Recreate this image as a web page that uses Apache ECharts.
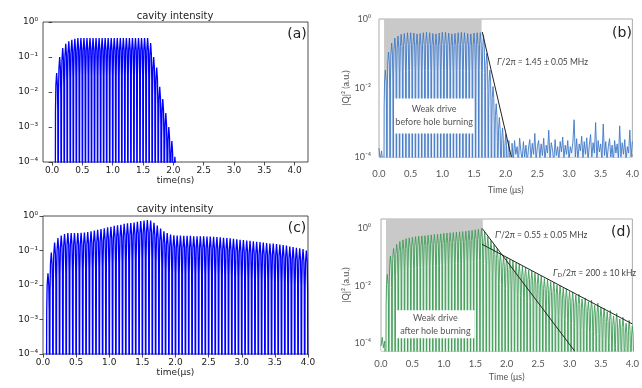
<!DOCTYPE html>
<html>
<head>
<meta charset="utf-8">
<script src="https://cdn.jsdelivr.net/npm/echarts@6/dist/echarts.min.js"></script>
<style>
  html, body { margin: 0; padding: 0; background: #fff; }
  #chart { width: 642px; height: 388px; }
</style>
</head>
<body>
<div id="chart"></div>
<script>
// pulse train: one peak every PERIOD (time units of each panel)
const PERIOD = 0.05;
// shape of one oscillation, [phase, fraction of the peak]; 0 means the dip
const PULSE_SHAPE = [[0, 0], [0.12, 0.08], [0.25, 0.45], [0.5, 1], [0.75, 0.45], [0.88, 0.08]];
const DIP = 1e-7;

// (a) simulation, weak drive before hole burning (peaks of each oscillation)
const startA = 0.05;
const peaksA = [
  0.035, 0.1, 0.18, 0.24, 0.28, 0.31, 0.33,
  0.35, 0.35, 0.35, 0.35, 0.35, 0.35, 0.35, 0.35, 0.35, 0.35, 0.35, 0.35,
  0.35, 0.35, 0.35, 0.35, 0.35, 0.35, 0.35, 0.35, 0.35, 0.35, 0.35, 0.35,
  0.25, 0.1, 0.05, 0.014, 0.0063, 0.0025, 0.001, 0.0004, 0.00014
];

// (c) simulation, after hole burning
const startC = 0.05;
const peaksC = [
  0.022, 0.087, 0.17, 0.23, 0.27, 0.3,
  0.32, 0.32, 0.32, 0.32, 0.325, 0.33,
  0.34, 0.36, 0.38, 0.4, 0.42, 0.44, 0.47, 0.49, 0.52, 0.54, 0.56, 0.59, 0.61, 0.63,
  0.65, 0.68, 0.71, 0.74, 0.76, 0.74, 0.64, 0.53, 0.43, 0.36, 0.32, 0.29, 0.275,
  0.27, 0.27, 0.265, 0.265, 0.265, 0.26, 0.26, 0.26, 0.26, 0.255,
  0.255, 0.25, 0.245, 0.24, 0.235, 0.23, 0.225, 0.22, 0.21, 0.205,
  0.2, 0.195, 0.19, 0.185, 0.18, 0.175, 0.17, 0.165, 0.16, 0.16,
  0.155, 0.15, 0.145, 0.14, 0.13, 0.125, 0.12, 0.115, 0.11, 0.1
];

// (b) measurement before hole burning
const startB = 0.075;
const preNoiseB = [[0, 1.8e-4], [0.02, 0.8e-4], [0.04, 1.5e-4], [0.06, 0.7e-4]];
const peaksB = [
  0.033, 0.11, 0.2, 0.28, 0.32,
  0.36, 0.38, 0.4, 0.4, 0.39, 0.37, 0.38, 0.4, 0.41, 0.4, 0.38, 0.37, 0.39,
  0.41, 0.41, 0.39, 0.37, 0.38, 0.4, 0.41, 0.4, 0.38, 0.37, 0.39, 0.4, 0.4,
  0.35, 0.1, 0.033, 0.011, 0.0035, 0.0014, 0.0007, 0.00047, 0.0003
];
const noiseStartB = 2.1;
const noiseStepB = 0.02;
const noiseB = [
  2.5e-4, 0.8e-4, 3e-4, 1.2e-4, 2e-4, 0.7e-4, 3.5e-4, 1.5e-4, 0.8e-4, 2.8e-4,
  1e-4, 2.2e-4, 0.7e-4, 1.8e-4, 3.2e-4, 0.9e-4, 2.5e-4, 1.2e-4, 4.8e-4, 0.8e-4,
  2e-4, 3e-4, 0.9e-4, 2.4e-4, 1.1e-4, 3.5e-4, 0.8e-4, 2.2e-4, 1.3e-4, 6e-4,
  0.9e-4, 2.6e-4, 1.6e-4, 0.7e-4, 3.2e-4, 1.1e-4, 2e-4, 0.8e-4, 2.8e-4, 1.4e-4,
  3.8e-4, 0.9e-4, 2.2e-4, 1.2e-4, 3e-4, 0.8e-4, 2e-4, 1.3e-4, 2.6e-4, 1.2e-3,
  1e-4, 3.4e-4, 0.8e-4, 2.4e-4, 1.5e-4, 4e-4, 0.9e-4, 2.8e-4, 1.2e-4, 3.6e-4,
  0.8e-4, 2.2e-4, 4.5e-4, 1e-4, 2.6e-4, 1.3e-4, 1e-3, 0.9e-4, 3e-4, 1.4e-4,
  2.4e-4, 0.8e-4, 9e-4, 1.1e-4, 2.8e-4, 0.8e-4, 2e-4, 3.4e-4, 1e-4, 2.2e-4,
  0.7e-4, 3e-4, 1.3e-4, 2.4e-4, 0.9e-4, 8e-4, 1e-4, 2.6e-4, 1.2e-4, 3.2e-4,
  0.8e-4, 2e-4, 1.3e-4, 6e-4, 1e-4, 2.8e-4
];
const fitB = [[1.63, 0.42], [2.09, 1e-4]];

// (d) measurement after hole burning
const startD = 0.075;
const preNoiseD = [[0, 0.8e-4], [0.02, 1.6e-4], [0.04, 0.7e-4], [0.06, 1.2e-4]];
const peaksD = [
  0.025, 0.11, 0.2, 0.28, 0.35, 0.4, 0.44, 0.47, 0.5,
  0.52, 0.54, 0.55, 0.56, 0.58, 0.6, 0.62, 0.63, 0.65, 0.68,
  0.69, 0.71, 0.72, 0.74, 0.76, 0.78, 0.8, 0.83, 0.86, 0.9, 0.94, 0.98,
  0.76, 0.52, 0.38, 0.275, 0.2, 0.14, 0.107, 0.1,
  0.083, 0.076, 0.063, 0.058, 0.048, 0.044, 0.036, 0.033, 0.028, 0.025,
  0.022, 0.018, 0.0166, 0.014, 0.0132, 0.0107, 0.01, 0.0083, 0.0079, 0.0063,
  0.006, 0.0048, 0.005, 0.0035, 0.0038, 0.0028, 0.0032, 0.0021, 0.0025, 0.0018,
  0.00166, 0.00126, 0.0014, 0.0009, 0.0011, 0.0007, 0.0008, 0.0005, 0.00063, 0.0004
];
const fitD1 = [[1.61, 1.0], [3.08, 5.4e-5]];
const fitD2 = [[1.61, 0.28], [4.0, 4.7e-4]];

const xTicksA = [0, 0.5, 1, 1.5, 2, 2.5, 3, 3.5, 4];

// build the oscillating trace from the peak list
function pulseTrain(start, peaks) {
  const out = [];
  peaks.forEach((p, i) => {
    const t = start + i * PERIOD;
    PULSE_SHAPE.forEach(([ph, f]) => {
      out.push([+(t + ph * PERIOD).toFixed(4), f === 0 ? DIP : p * f]);
    });
  });
  out.push([+(start + peaks.length * PERIOD).toFixed(4), DIP]);
  return out;
}

const supMap = { '-': '⁻', '0': '⁰', '1': '¹', '2': '²', '3': '³', '4': '⁴', '5': '⁵' };
function powLabel(v, evenOnly) {
  const l = Math.log10(v);
  const e = Math.round(l);
  if (Math.abs(l - e) > 1e-6) return '';
  if (evenOnly && e % 2 !== 0) return '';
  return '10' + String(e).split('').map(c => supMap[c]).join('');
}

const MPL = 'DejaVu Sans';
const PAPER = 'Lato';

function simX(idx, extra) {
  return Object.assign({
    type: 'value', gridIndex: idx,
    axisLine: { show: false },
    axisTick: { show: true, inside: false, length: 3.5, lineStyle: { color: '#222', width: 0.8 } },
    axisLabel: { color: '#222', fontSize: 9, fontFamily: MPL, margin: 4, formatter: v => v.toFixed(1) },
    splitLine: { show: false },
    nameLocation: 'middle',
    nameTextStyle: { color: '#222', fontSize: 9, fontFamily: MPL }
  }, extra);
}
function simY(idx) {
  return {
    type: 'log', gridIndex: idx, min: 1e-4, max: 1,
    axisLine: { show: false },
    axisTick: { show: true, inside: false, length: 3.5, lineStyle: { color: '#222', width: 0.8 } },
    axisLabel: { color: '#222', fontSize: 9, fontFamily: MPL, margin: 5, formatter: v => powLabel(v, false) },
    splitLine: { show: false }
  };
}
function paperX(idx, margin, gap) {
  return {
    type: 'value', gridIndex: idx, min: 0, max: 4, interval: 0.5,
    axisLine: { show: false },
    axisTick: { show: true, inside: true, length: 3, lineStyle: { color: '#777', width: 0.8 } },
    axisLabel: { color: '#555', fontSize: 9.5, fontFamily: PAPER, margin: margin, formatter: v => v.toFixed(1) },
    splitLine: { show: false },
    name: 'Time (μs)', nameLocation: 'middle', nameGap: gap,
    nameTextStyle: { color: '#555', fontSize: 9, fontFamily: PAPER }
  };
}
function paperY(idx, extra) {
  return Object.assign({
    type: 'log', gridIndex: idx,
    axisLine: { show: false },
    axisTick: { show: false },
    axisLabel: { color: '#555', fontSize: 9, fontFamily: PAPER, margin: 8 },
    splitLine: { show: false },
    name: '|Q|² (a.u.)', nameLocation: 'middle', nameGap: 26, nameRotate: 90,
    nameTextStyle: { color: '#555', fontSize: 9, fontFamily: PAPER }
  }, extra);
}

function boxArea(text, x0, y0, x1, y1) {
  return {
    silent: true, z: 10,
    itemStyle: { color: '#ffffff', borderWidth: 0 },
    label: { show: true, position: 'inside', color: '#555', fontSize: 9, fontFamily: PAPER, lineHeight: 13 },
    data: [[{ name: text, xAxis: x0, yAxis: y0 }, { xAxis: x1, yAxis: y1 }]]
  };
}
function grayArea(x0, x1) {
  return {
    silent: true, z: 1,
    itemStyle: { color: '#c9c9c9' },
    data: [[{ xAxis: x0 }, { xAxis: x1 }]]
  };
}

const dataB = preNoiseB.concat(pulseTrain(startB, peaksB),
  noiseB.map((v, i) => [+(noiseStartB + i * noiseStepB).toFixed(3), v]));
const dataD = preNoiseD.concat(pulseTrain(startD, peaksD));

const chart = echarts.init(document.getElementById('chart'), null, { renderer: 'canvas' });
chart.setOption({
  animation: false,
  backgroundColor: '#ffffff',
  grid: [
    { left: 43, top: 22, width: 265, height: 140, show: true, borderColor: '#222', borderWidth: 0.8, backgroundColor: 'transparent' },
    { left: 379, top: 19, width: 255, height: 138, show: true, borderColor: '#aaa', borderWidth: 1, backgroundColor: 'transparent' },
    { left: 43, top: 216, width: 265, height: 138, show: true, borderColor: '#222', borderWidth: 0.8, backgroundColor: 'transparent' },
    { left: 381, top: 219, width: 252, height: 132, show: true, borderColor: '#aaa', borderWidth: 1, backgroundColor: 'transparent' }
  ],
  xAxis: [
    simX(0, { min: -0.15, max: 4.22, name: 'time(ns)', nameGap: 12,
      axisLabel: { color: '#222', fontSize: 9, fontFamily: MPL, margin: 4, customValues: xTicksA, formatter: v => v.toFixed(1) },
      axisTick: { show: true, length: 3.5, customValues: xTicksA, lineStyle: { color: '#222', width: 0.8 } } }),
    paperX(1, 12, 29),
    simX(2, { min: 0, max: 4, interval: 0.5, name: 'time(μs)', nameGap: 10 }),
    paperX(3, 8, 22)
  ],
  yAxis: [
    simY(0),
    paperY(1, { min: 1e-4, max: 1, interval: 2, axisLabel: { color: '#555', fontSize: 9, fontFamily: PAPER, margin: 8, formatter: v => powLabel(v, true) } }),
    simY(2),
    paperY(3, { min: Math.pow(10, -4.27), max: Math.pow(10, 0.33), axisLabel: { color: '#555', fontSize: 9, fontFamily: PAPER, margin: 10, formatter: v => powLabel(v, true) } })
  ],
  series: [
    { type: 'line', xAxisIndex: 0, yAxisIndex: 0, data: pulseTrain(startA, peaksA), symbol: 'none',
      lineStyle: { color: '#0000ff', width: 1.3 }, z: 2 },
    { type: 'line', xAxisIndex: 2, yAxisIndex: 2, data: pulseTrain(startC, peaksC), symbol: 'none',
      lineStyle: { color: '#0000ff', width: 1.3 }, z: 2 },
    { type: 'line', xAxisIndex: 1, yAxisIndex: 1, data: dataB, symbol: 'none',
      lineStyle: { color: '#3f78c6', width: 0.9 }, areaStyle: { origin: 'start', color: '#eef3fa', opacity: 1 },
      markArea: grayArea(0.08, 1.62), z: 2 },
    { type: 'line', xAxisIndex: 1, yAxisIndex: 1, data: fitB, symbol: 'none',
      lineStyle: { color: '#222', width: 1 }, z: 3,
      markArea: boxArea('Weak drive\nbefore hole burning', 0.24, 0.005, 1.5, 0.00048) },
    { type: 'line', xAxisIndex: 3, yAxisIndex: 3, data: dataD, symbol: 'none',
      lineStyle: { color: '#3d9b55', width: 0.9 }, areaStyle: { origin: 'start', color: '#eef7f0', opacity: 1 },
      markArea: grayArea(0.08, 1.62), z: 2 },
    { type: 'line', xAxisIndex: 3, yAxisIndex: 3, data: fitD1, symbol: 'none',
      lineStyle: { color: '#222', width: 1 }, z: 3,
      markArea: boxArea('Weak drive\nafter hole burning', 0.24, 0.0014, 1.49, 0.00015) },
    { type: 'line', xAxisIndex: 3, yAxisIndex: 3, data: fitD2, symbol: 'none',
      lineStyle: { color: '#222', width: 1 }, z: 3 }
  ],
  graphic: [
    { type: 'text', x: 175, y: 16, style: { text: 'cavity intensity', font: '10px "DejaVu Sans"', fill: '#222', align: 'center', verticalAlign: 'middle' } },
    { type: 'text', x: 175, y: 209, style: { text: 'cavity intensity', font: '10px "DejaVu Sans"', fill: '#222', align: 'center', verticalAlign: 'middle' } },
    { type: 'text', x: 297, y: 34, style: { text: '(a)', font: '14px "DejaVu Sans"', fill: '#222', align: 'center', verticalAlign: 'middle' } },
    { type: 'text', x: 297, y: 228, style: { text: '(c)', font: '14px "DejaVu Sans"', fill: '#222', align: 'center', verticalAlign: 'middle' } },
    { type: 'text', x: 622, y: 33, style: { text: '(b)', font: '14px "DejaVu Sans"', fill: '#222', align: 'center', verticalAlign: 'middle' } },
    { type: 'text', x: 621, y: 232, style: { text: '(d)', font: '14px "DejaVu Sans"', fill: '#222', align: 'center', verticalAlign: 'middle' } },
    { type: 'text', x: 497, y: 62, style: { text: '{i|Γ}/2π = 1.45 ± 0.05 MHz', font: '8.5px Lato', fill: '#444', verticalAlign: 'middle',
      rich: { i: { fontStyle: 'italic', fontSize: 9, fontFamily: 'Lato', fill: '#444' } } } },
    { type: 'text', x: 495, y: 235, style: { text: "{i|Γ}'/2π = 0.55 ± 0.05 MHz", font: '8.5px Lato', fill: '#444', verticalAlign: 'middle',
      rich: { i: { fontStyle: 'italic', fontSize: 9, fontFamily: 'Lato', fill: '#444' } } } },
    { type: 'text', x: 553, y: 273, style: { text: '{i|Γ}{s|D}/2π = 200 ± 10 kHz', font: '8.5px Lato', fill: '#444', verticalAlign: 'middle',
      rich: { i: { fontStyle: 'italic', fontSize: 9, fontFamily: 'Lato', fill: '#444' }, s: { fontSize: 6, fontFamily: 'Lato', fill: '#444', padding: [5, 0, 0, 0] } } } }
  ]
});
</script>
</body>
</html>
